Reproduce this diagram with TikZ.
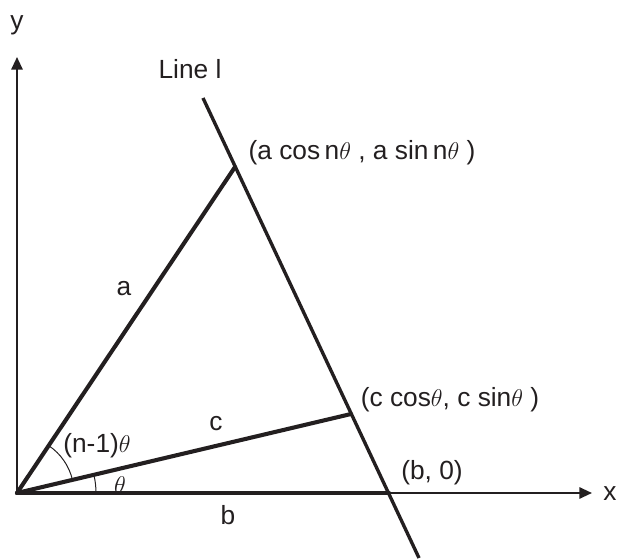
\documentclass[tikz,border=0pt]{standalone}
\usepackage{fontspec}
\setmainfont{Liberation Sans}
\usetikzlibrary{arrows.meta}
\definecolor{ink}{RGB}{35,31,32}
\begin{document}
\begin{tikzpicture}
  [x=0.025cm,y=0.025cm,every node/.style={inner sep=0pt,text=ink,font=\fontsize{18.7}{21}\selectfont},
   axis/.style={draw=ink,line width=1.5pt,-{Triangle[length=9pt,width=8pt]}},
   side/.style={draw=ink,line width=2.9pt,line cap=round},
   anglearc/.style={draw=ink,line width=0.7pt}]
  \useasboundingbox (-17,-66) rectangle (601,493);
  \coordinate (O) at (0,0);
  \coordinate (X) at (575,0);
  \coordinate (Y) at (0,436);
  \coordinate (A) at (218,326);
  \coordinate (C) at (334,79);
  \coordinate (B) at (372,0);
  \coordinate (L1) at (186,395);
  \coordinate (L2) at (402,-65);

  \draw[axis] (O) -- (X);
  \draw[axis] (O) -- (Y);

  \foreach \from/\to in {O/A, O/C, O/B}
  \draw[side] (\from) -- (\to);
  \draw[side,line width=2.4pt,line cap=butt] (L1) -- (L2);

  \draw[anglearc] (79,0) arc (0:13.31:79);
  \draw[anglearc] (13.31:57) arc (13.31:56.23:57);

  \node (ylab) at (0,468) {y};
  \node (xlab) at (593,-1) {x};
  \node (linelab) at (173,424) {Line l};
  \node (alab) at (107,204) {a};
  \node (clab) at (199,69) {c};
  \node (blab) at (211,-22) {b};
  \node (Alab) at (345,340) {(a cos\,n$\theta$ , a sin\,n$\theta$ )};
  \node (Clab) at (433,93) {(c cos$\theta$, c sin$\theta$ )};
  \node (Blab) at (415,20) {(b, 0)};
  \node (nang) at (80,47) {(n-1)$\theta$};
  \node (tang) at (103,8) {$\theta$};
\end{tikzpicture}
\end{document}
